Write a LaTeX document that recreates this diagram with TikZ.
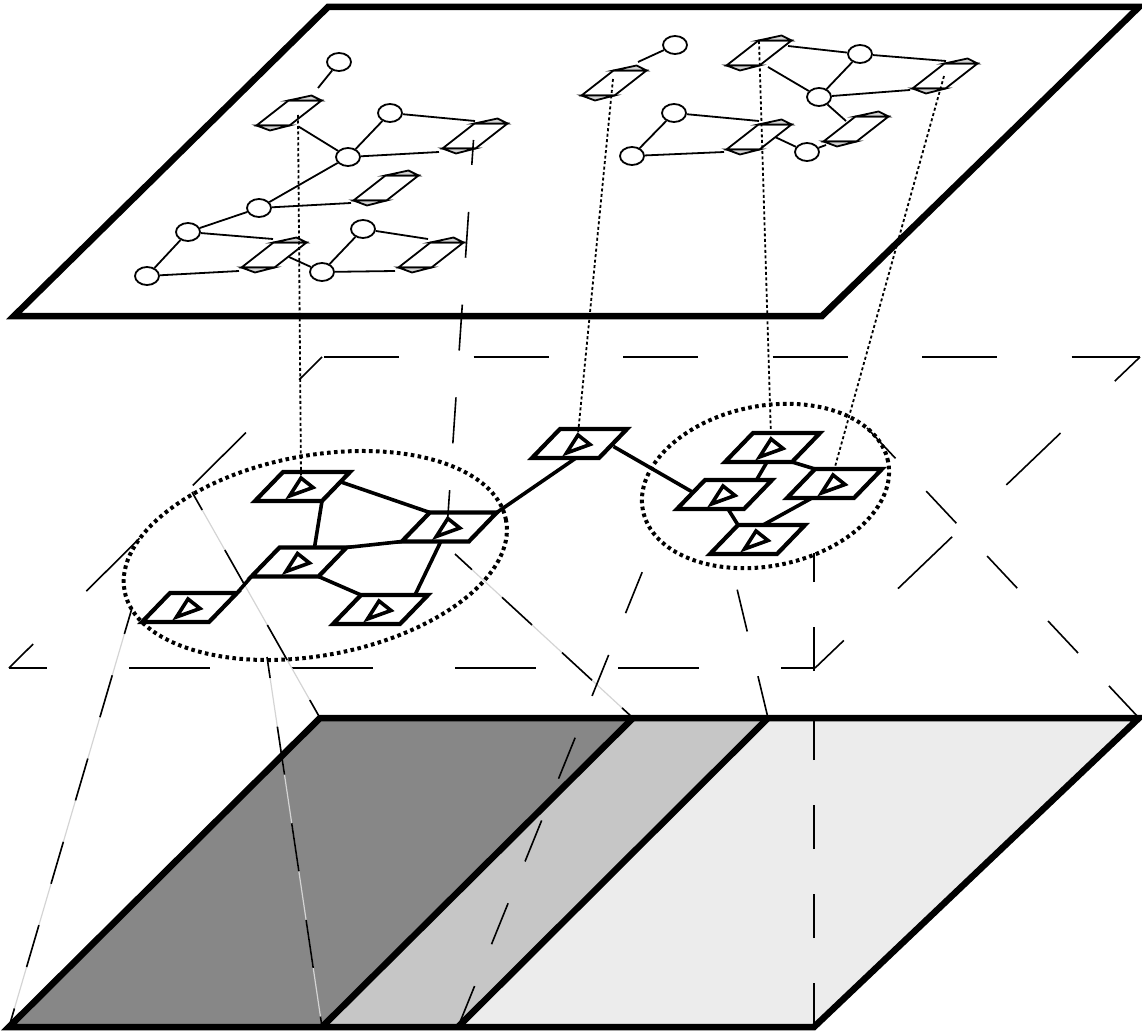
\documentclass[tikz,border=0pt]{standalone}
\usetikzlibrary{shapes.geometric}
\definecolor{dk}{RGB}{135,135,135}
\definecolor{md}{RGB}{198,198,198}
\definecolor{lt}{RGB}{236,236,236}
\definecolor{ghost}{RGB}{212,212,212}
\begin{document}
\begin{tikzpicture}[x=1pt,y=-1pt,
  plane/.style={line width=6.5pt},
  midplane/.style={line width=1.6pt},
  projline/.style={line width=1.6pt},
  ghostline/.style={line width=1.2pt, draw=ghost},
  cluster/.style={draw, ellipse, inner sep=0pt, line width=4pt, dash pattern=on 3.6pt off 3.4pt},
  link/.style={line width=3.6pt},
  devbox/.style={inner sep=0pt, minimum width=95pt, minimum height=29pt},
  devline/.style={line width=4.2pt, fill=white},
  triline/.style={line width=3.6pt},
  tpline/.style={line width=1.8pt},
  tpcirc/.style={draw, ellipse, inner sep=0pt, line width=1.8pt, minimum width=24pt, minimum height=18pt, fill=white},
  tpbox/.style={inner sep=0pt, minimum width=65pt, minimum height=25pt},
  vdots/.style={line width=1.8pt, dash pattern=on 3pt off 2.5pt},
]
\useasboundingbox (0,0) rectangle (1142,1032);
% ---- coordinates
\coordinate (t1) at (328,7);   \coordinate (t2) at (1139,7);
\coordinate (t3) at (822,316); \coordinate (t4) at (14,316);
\coordinate (m1) at (322,357); \coordinate (m2) at (1140,357);
\coordinate (m3) at (815,668); \coordinate (m4) at (9,668);
\coordinate (bb1) at (320,718); \coordinate (bb2) at (633,718);
\coordinate (bb3) at (768,718); \coordinate (bb4) at (1139,718);
\coordinate (bb5) at (814,1027); \coordinate (bb6) at (458,1027);
\coordinate (bb7) at (322,1027); \coordinate (bb8) at (9,1027);
\coordinate (e1) at (132,608); \coordinate (e2) at (267,657);
\coordinate (e3) at (192,492); \coordinate (e4) at (455,554);
\coordinate (r1) at (732,568); \coordinate (r2) at (656,538);
\coordinate (r3) at (867,428); \coordinate (r4) at (814,553);
% ---- bottom box fills
\fill[dk] (bb1) -- (bb2) -- (bb7) -- (bb8) -- cycle;
\fill[md] (bb2) -- (bb3) -- (bb6) -- (bb7) -- cycle;
\fill[lt] (bb3) -- (bb4) -- (bb5) -- (bb6) -- cycle;
% ---- top plane
\filldraw[plane, fill=white] (t1) -- (t2) -- (t3) -- (t4) -- cycle;
% ---- middle plane (dashed)
\draw[midplane, dash pattern=on 75pt off 74.5pt, dash phase=147.5pt] (m1) -- (m2);
\draw[midplane, dash pattern=on 75pt off 75pt, dash phase=40pt] (m2) -- (m3);
\draw[midplane, dash pattern=on 81pt off 82pt, dash phase=43pt] (m4) -- (m3);
\draw[midplane, dash pattern=on 75pt off 75pt, dash phase=41pt] (m4) -- (m1);
% ---- projection lines to the left cluster
\draw[ghostline] (e1) -- (bb8);
\draw[ghostline] (e2) -- (bb7);
\draw[ghostline] (e3) -- (bb1);
\draw[ghostline] (e4) -- (bb2);
\draw[projline, dash pattern=on 43.7pt off 43.1pt, dash phase=16.7pt] (e1) -- (bb8);
\draw[projline, dash pattern=on 48.5pt off 49.2pt, dash phase=27.3pt] (e2) -- (bb7);
\draw[projline, dash pattern=on 40.2pt off 46pt, dash phase=19.5pt] (e3) -- (bb1);
\draw[projline, dash pattern=on 40.8pt off 40.8pt, dash phase=17.7pt] (e4) -- (bb2);
% ---- projection lines to the right cluster
\draw[projline, dash pattern=on 43pt off 46pt] (bb3) -- (r1);
\draw[projline, dash pattern=on 44.2pt off 45.1pt] (bb6) -- (r2);
\draw[projline, dash pattern=on 44pt off 45pt] (bb4) -- (r3);
\draw[projline, dash pattern=on 44pt off 45pt] (bb5) -- (r4);
% ---- bottom box borders
\draw[plane] (bb1) -- (bb4) -- (bb5) -- (bb8) -- cycle;
\draw[plane] (bb2) -- (bb7);
\draw[plane] (bb3) -- (bb6);
% ---- clusters
\node[cluster, minimum width=388pt, minimum height=200pt, rotate=10.5] (L) at (315.3,555.5) {};
\node[cluster, minimum width=250pt, minimum height=160pt, rotate=11.3] (R) at (765.5,486) {};
% ---- devices (positions)
\node[devbox] (A) at (302.5,486.5) {};
\node[devbox] (B) at (299,562) {};
\node[devbox] (C) at (449.3,527) {};
\node[devbox] (D) at (189.5,607.5) {};
\node[devbox] (E) at (380.5,609.5) {};
\node[devbox] (F) at (579.5,443.5) {};
\node[devbox] (G) at (772.5,447.5) {};
\node[devbox] (H) at (834.5,483.5) {};
\node[devbox] (I) at (724.5,494.5) {};
\node[devbox] (J) at (757.5,539.5) {};
% ---- links
\draw[link] ([shift={(38.5,-4.5)}]A.center) -- ([shift={(-19.5,-14.5)}]C.center);
\draw[link] ([shift={(19.5,14.5)}]A.center) -- ([shift={(15.5,-14.5)}]B.center);
\draw[link] ([shift={(47.5,-14.5)}]B.center) -- ([shift={(-47.5,14.5)}]C.center);
\draw[link] ([shift={(-47.5,14.5)}]B.center) -- ([shift={(47.5,-14.5)}]D.center);
\draw[link] ([shift={(19.5,14.5)}]B.center) -- ([shift={(-19.5,-14.5)}]E.center);
\draw[link] ([shift={(-8.5,14.5)}]C.center) -- ([shift={(34.5,-14.5)}]E.center);
\draw[link] ([shift={(47.5,-14.5)}]C.center) -- ([shift={(-3.5,14.5)}]F.center);
\draw[link] ([shift={(34,3)}]F.center) -- ([shift={(-33,-3)}]I.center);
\draw[link] ([shift={(-5.5,14.5)}]G.center) -- ([shift={(32,-14.5)}]I.center);
\draw[link] ([shift={(19.5,14.5)}]G.center) -- ([shift={(-19.5,-14.5)}]H.center);
\draw[link] ([shift={(3.5,14.5)}]I.center) -- ([shift={(-19.5,-14.5)}]J.center);
\draw[link] ([shift={(-22.5,14.5)}]H.center) -- ([shift={(5.5,-14.5)}]J.center);
% ---- device shapes
\foreach \n in {A,B,C,D,E,F,G,H,I,J}{
  \draw[devline] ([shift={(-47.5,14.5)}]\n.center) -- ([shift={(19.5,14.5)}]\n.center) -- ([shift={(47.5,-14.5)}]\n.center) -- ([shift={(-19.5,-14.5)}]\n.center) -- cycle;
  \draw[triline] ([shift={(-1.5,-8.5)}]\n.center) -- ([shift={(10.5,1)}]\n.center) -- ([shift={(-13,9.5)}]\n.center) -- cycle;
}
% ---- top plane contents
\node[tpbox] (b1) at (289,113) {};
\node[tpbox] (b2) at (475,136) {};
\node[tpbox] (b3) at (386,188) {};
\node[tpbox] (b4) at (274,255) {};
\node[tpbox] (b5) at (431,255) {};
\node[tpbox] (b6) at (614,83) {};
\node[tpbox] (b7) at (759,53) {};
\node[tpbox] (b8) at (945,76) {};
\node[tpbox] (b9) at (759,137) {};
\node[tpbox] (b10) at (856,129) {};
\node[tpcirc] (c1) at (339,62) {};
\node[tpcirc] (c2) at (390,113) {};
\node[tpcirc] (c3) at (348,157) {};
\node[tpcirc] (c4) at (259,208) {};
\node[tpcirc] (c5) at (188,232) {};
\node[tpcirc] (c6) at (147,276) {};
\node[tpcirc] (c7) at (322,272) {};
\node[tpcirc] (c8) at (363,229) {};
\node[tpcirc] (c9) at (675,45) {};
\node[tpcirc] (c10) at (860,54) {};
\node[tpcirc] (c11) at (819,97) {};
\node[tpcirc] (c12) at (674,113) {};
\node[tpcirc] (c13) at (632,156) {};
\node[tpcirc] (c14) at (807,152) {};
\draw[tpline] (c1) -- ([shift={(29,-25)}]b1.center);
\draw[tpline] ([shift={(9.5,13.5)}]b1.center) -- (c3);
\draw[tpline] (c2) -- ([shift={(0,-15)}]b2.center);
\draw[tpline] (c3) -- ([shift={(-36,16)}]b2.center);
\draw[tpline] (c2) -- (c3);
\draw[tpline] (c3) -- (c4);
\draw[tpline] (c4) -- ([shift={(-35,15)}]b3.center);
\draw[tpline] (c5) -- (c4);
\draw[tpline] (c5) -- ([shift={(-1,-16)}]b4.center);
\draw[tpline] (c5) -- (c6);
\draw[tpline] (c6) -- ([shift={(-35,16)}]b4.center);
\draw[tpline] ([shift={(15,2)}]b4.center) -- (c7);
\draw[tpline] (c7) -- (c8);
\draw[tpline] (c8) -- ([shift={(-3,-16)}]b5.center);
\draw[tpline] (c7) -- ([shift={(-36,16)}]b5.center);
\draw[tpline] ([shift={(24,-21)}]b6.center) -- (c9);
\draw[tpline] ([shift={(29,-7)}]b7.center) -- (c10);
\draw[tpline] (c10) -- ([shift={(1,-15)}]b8.center);
\draw[tpline] (c10) -- (c11);
\draw[tpline] ([shift={(9,14)}]b7.center) -- (c11);
\draw[tpline] (c11) -- ([shift={(-35,14)}]b8.center);
\draw[tpline] (c11) -- ([shift={(-10,-8)}]b10.center);
\draw[tpline] (c12) -- ([shift={(0,-16)}]b9.center);
\draw[tpline] (c12) -- (c13);
\draw[tpline] (c13) -- ([shift={(-35,15)}]b9.center);
\draw[tpline] ([shift={(16,0)}]b9.center) -- (c14);
\draw[tpline] (c14) -- ([shift={(-30,16)}]b10.center);
\foreach \n in {b1,b2,b3,b4,b5,b6,b7,b8,b9,b10}{
  \draw[tpline, fill=white] ([shift={(-32.5,12.5)}]\n.center) -- ([shift={(0.5,12.5)}]\n.center) -- ([shift={(32.5,-12.5)}]\n.center) -- ([shift={(-0.5,-12.5)}]\n.center) -- cycle;
  \draw[tpline, fill=gray!35] ([shift={(-0.5,-12.5)}]\n.center) -- ([shift={(22.5,-17.5)}]\n.center) -- ([shift={(32.5,-12.5)}]\n.center) -- cycle;
  \draw[tpline, fill=gray!35] ([shift={(-32.5,12.5)}]\n.center) -- ([shift={(-19,17.5)}]\n.center) -- ([shift={(0.5,12.5)}]\n.center) -- cycle;
}
% ---- vertical projections from top plane
\draw[vdots] ([shift={(9,2)}]b1.center) -- ([shift={(-1.5,-9.5)}]A.center);
\draw[vdots] ([shift={(-1,-4)}]b6.center) -- ([shift={(-1.5,-9.5)}]F.center);
\draw[vdots] ([shift={(0,-12)}]b7.center) -- ([shift={(-1.5,-9.5)}]G.center);
\draw[vdots] ([shift={(-1,0)}]b8.center) -- ([shift={(-1.5,-9.5)}]H.center);
\draw[projline, dash pattern=on 46pt off 47pt, dash phase=21pt] ([shift={(-1.5,4)}]b2.center) -- ([shift={(-1.5,-9.5)}]C.center);
\end{tikzpicture}
\end{document}
